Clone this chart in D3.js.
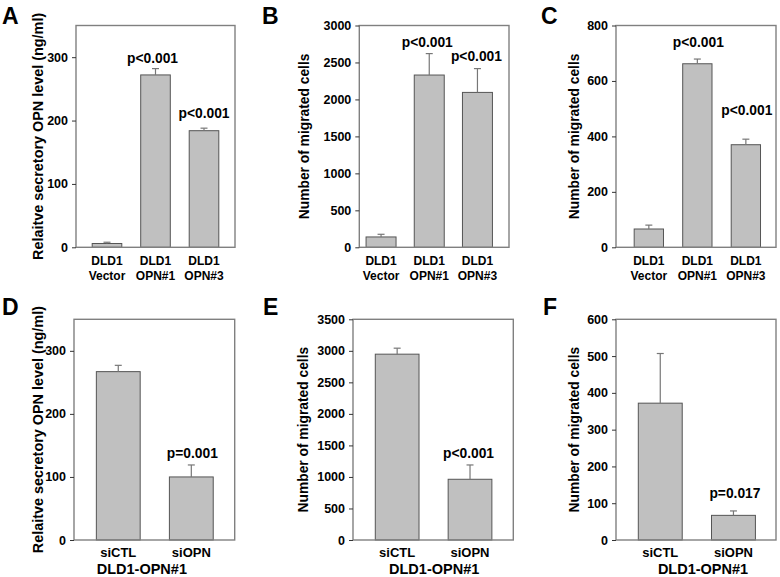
<!DOCTYPE html>
<html><head><meta charset="utf-8">
<script src="https://cdn.jsdelivr.net/npm/d3@7"></script>
<style>
html,body{margin:0;padding:0;background:#fff;}
text{font-family:"Liberation Sans",Arial,Helvetica,sans-serif;font-weight:bold;fill:#000;}
</style></head>
<body><svg id="c" width="780" height="577"></svg>
<script>
// ---- data ----
const catsTop = [["DLD1","Vector"],["DLD1","OPN#1"],["DLD1","OPN#3"]];
const catsBottom = [["siCTL"],["siOPN"]];

const aValues = [6, 272, 184];
const aErrors = [2, 10, 4];
const aP = ["", "p<0.001", "p<0.001"];
const aTicks = [0, 100, 200, 300];

const bValues = [140, 2330, 2095];
const bErrors = [36, 290, 322];
const bP = ["", "p<0.001", "p<0.001"];
const bTicks = [0, 500, 1000, 1500, 2000, 2500, 3000];

const cValues = [66, 662, 370];
const cErrors = [14, 17, 20];
const cP = ["", "p<0.001", "p<0.001"];
const cTicks = [0, 200, 400, 600, 800];

const dValues = [267, 100];
const dErrors = [10, 19];
const dP = ["", "p=0.001"];
const dTicks = [0, 100, 200, 300];

const eValues = [2947, 963];
const eErrors = [95, 227];
const eP = ["", "p<0.001"];
const eTicks = [0, 500, 1000, 1500, 2000, 2500, 3000, 3500];

const fValues = [372, 67];
const fErrors = [135, 12];
const fP = ["", "p=0.017"];
const fTicks = [0, 100, 200, 300, 400, 500, 600];

const yTitleOPN = "Relaitve secretory OPN level (ng/ml)";
const yTitleCells = "Number of migrated cells";
const groupLabel = "DLD1-OPN#1";

// ---- layout ----
const panels = [
  {letter:"A", lx:2, ly:24, cats:catsTop, values:aValues, errors:aErrors, p:aP, ticks:aTicks, max:350,
   x0:76, x1:235, y0:25.5, y1:247.3, pi:0.39, po:0.334, al:0.5, yTitle:yTitleOPN, tfs:14.4, tx:37.5, gaps:[0,6,10], pdx:[0,-3,0]},
  {letter:"B", lx:262, ly:24, cats:catsTop, values:bValues, errors:bErrors, p:bP, ticks:bTicks, max:3000,
   x0:359.3, x1:509, y0:25.5, y1:247.3, pi:0.378, po:0.242, al:0.29, yTitle:yTitleCells, tfs:13.8, tx:303.5, gaps:[0,6.5,7.5], pdx:[0,-2,-1]},
  {letter:"C", lx:541, ly:24, cats:catsTop, values:cValues, errors:cErrors, p:cP, ticks:cTicks, max:800,
   x0:616, x1:776, y0:25.5, y1:247.3, pi:0.396, po:0.347, al:0.54, yTitle:yTitleCells, tfs:13.8, tx:573.5, gaps:[0,11.7,24.5], pdx:[0,1,1]},
  {letter:"D", lx:2, ly:315, cats:catsBottom, values:dValues, errors:dErrors, p:dP, ticks:dTicks, max:350,
   x0:74, x1:234.7, y0:319.3, y1:540, pi:0.40, po:0.30, al:0.51, yTitle:yTitleOPN, tfs:14.4, tx:37.5, gaps:[0,6.7], pdx:[0,1], gdx:-12.5},
  {letter:"E", lx:263, ly:315, cats:catsBottom, values:eValues, errors:eErrors, p:eP, ticks:eTicks, max:3500,
   x0:353, x1:513.3, y0:319.3, y1:540, pi:0.40, po:0.30, al:0.51, yTitle:yTitleCells, tfs:13.8, tx:302.7, gaps:[0,6.7], pdx:[0,-1.5], gdx:1},
  {letter:"F", lx:543, ly:315, cats:catsBottom, values:fValues, errors:fErrors, p:fP, ticks:fTicks, max:600,
   x0:616, x1:776, y0:319.3, y1:540, pi:0.40, po:0.293, al:0.52, yTitle:yTitleCells, tfs:13.8, tx:573.5, gaps:[0,12.7], pdx:[0,1.5], gdx:7}
];

const svg = d3.select("#c");
svg.append("rect").attr("width",780).attr("height",577).attr("fill","#fff");

panels.forEach(P => {
  const g = svg.append("g");
  const idx = P.values.map((v,i)=>i);
  const x = d3.scaleBand().domain(idx).range([P.x0, P.x1])
    .paddingInner(P.pi).paddingOuter(P.po).align(P.al);
  const y = d3.scaleLinear().domain([0, P.max]).range([P.y1, P.y0]);

  // bars
  g.selectAll("rect.bar").data(P.values).join("rect")
    .attr("class","bar")
    .attr("x",(d,i)=>x(i)).attr("width",x.bandwidth())
    .attr("y",d=>y(d)).attr("height",d=>y(0)-y(d))
    .attr("fill","#c0c0c0").attr("stroke","#555").attr("stroke-width",1);

  // error bars (upper)
  P.values.forEach((v,i)=>{
    const cx = x(i)+x.bandwidth()/2;
    const top = y(v+P.errors[i]);
    g.append("line").attr("x1",cx).attr("x2",cx).attr("y1",y(v)).attr("y2",top)
      .attr("stroke","#777").attr("stroke-width",1.2);
    g.append("line").attr("x1",cx-3.5).attr("x2",cx+3.5).attr("y1",top).attr("y2",top)
      .attr("stroke","#777").attr("stroke-width",1.2);
    if (P.p[i]) {
      g.append("text").attr("x",cx+(P.pdx[i]||0)).attr("y",top-P.gaps[i])
        .attr("text-anchor","middle").style("font-size","13.8px").text(P.p[i]);
    }
  });

  // frame
  g.append("rect").attr("x",P.x0).attr("y",P.y0).attr("width",P.x1-P.x0).attr("height",P.y1-P.y0)
    .attr("fill","none").attr("stroke","#808080").attr("stroke-width",1.4);

  // y axis
  const ya = d3.axisLeft(y).tickValues(P.ticks).tickSize(4).tickPadding(4).tickFormat(d3.format("d"));
  const ax = g.append("g").attr("transform",`translate(${P.x0},0)`).call(ya);
  ax.select(".domain").remove();
  ax.selectAll(".tick line").attr("stroke","#333");
  ax.selectAll(".tick text").style("font-size","12.5px").style("font-family","'Liberation Sans',Arial,sans-serif").style("font-weight","bold").attr("fill","#000");

  // x labels
  P.cats.forEach((lines,i)=>{
    const cx = x(i)+x.bandwidth()/2;
    lines.forEach((t,k)=>{
      g.append("text").attr("x",cx).attr("y",P.y1+ (lines.length>1 ? 18 + k*14.5 : 16.5))
        .attr("text-anchor","middle").style("font-size", lines.length>1 ? "12px" : "13px").text(t);
    });
  });
  if (P.cats.length===2) {
    g.append("text").attr("x",(P.x0+P.x1)/2+(P.gdx||0)).attr("y",P.y1+34)
      .attr("text-anchor","middle").style("font-size","14.5px").text(groupLabel);
  }

  // y title
  const yc = (P.y0+P.y1)/2;
  g.append("text").attr("transform",`translate(${P.tx+5},${yc}) rotate(-90)`)
    .attr("text-anchor","middle").style("font-size",P.tfs+"px").text(P.yTitle);

  // panel letter
  svg.append("text").attr("x",P.lx).attr("y",P.ly).style("font-size","23px").text(P.letter);
});
</script></body></html>
